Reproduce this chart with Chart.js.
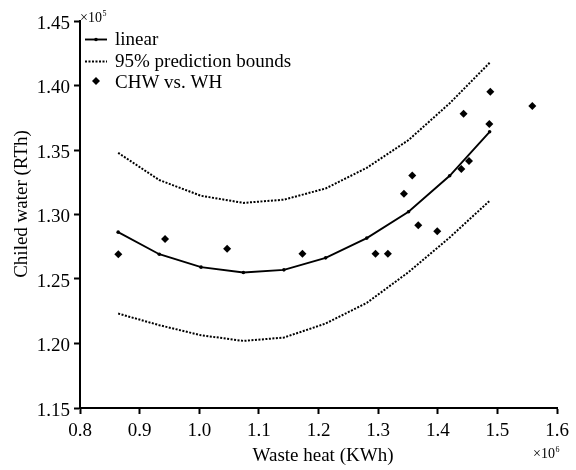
<!DOCTYPE html>
<html>
<head>
<meta charset="utf-8">
<script src="https://cdn.jsdelivr.net/npm/chart.js@4/dist/chart.umd.min.js"></script>
<style>
html,body{margin:0;padding:0;background:#fff;}
#wrap{width:576px;height:470px;position:relative;}
</style>
</head>
<body>
<div id="wrap"><canvas id="c" width="576" height="470"></canvas></div>
<script>
// Fitted curve (linear model) — x in 10^6 KWh, y in 10^5 RTh
const fitX = [0.864, 0.933, 1.003, 1.074, 1.142, 1.212, 1.281, 1.351, 1.420, 1.487];
const fitY = [1.2863, 1.2692, 1.2592, 1.2550, 1.2571, 1.2664, 1.2817, 1.3021, 1.3300, 1.3641];
// 95% prediction bounds
const upperY = [1.3478, 1.3267, 1.3145, 1.3090, 1.3115, 1.3202, 1.3362, 1.3577, 1.3862, 1.4176];
const lowerY = [1.2232, 1.2142, 1.2064, 1.2020, 1.2046, 1.2155, 1.2315, 1.2553, 1.2822, 1.3106];
// Observations CHW vs. WH
const obsX = [0.8643, 0.9427, 1.0467, 1.1731, 1.2956, 1.3164, 1.3433, 1.3572, 1.3673, 1.3992, 1.4395, 1.4524, 1.4433, 1.4865, 1.4882, 1.5586];
const obsY = [1.2692, 1.2811, 1.2734, 1.2695, 1.2695, 1.2695, 1.3160, 1.3303, 1.2917, 1.2871, 1.3352, 1.3414, 1.3781, 1.3701, 1.3952, 1.3841];
// Axes
const xMin = 0.8, xMax = 1.6, xStep = 0.1;
const yMin = 1.15, yMax = 1.45, yStep = 0.05;
const xTitle = "Waste heat (KWh)";
const yTitle = "Chiled water (RTh)";
const legendLabels = ["linear", "95% prediction bounds", "CHW vs. WH"];

const FONT = "'Liberation Serif', 'Times New Roman', serif";
const pts = (xs, ys) => xs.map((x, i) => ({x: x, y: ys[i]}));

const decor = {
  id: 'decor',
  afterDraw(chart) {
    const ctx = chart.ctx;
    ctx.save();
    ctx.fillStyle = '#000';
    ctx.strokeStyle = '#000';
    // axis titles
    ctx.font = '19px ' + FONT;
    ctx.textAlign = 'center';
    ctx.textBaseline = 'middle';
    ctx.fillText(xTitle, 323, 456);
    ctx.save();
    ctx.translate(22, 204);
    ctx.rotate(-Math.PI / 2);
    ctx.fillText(yTitle, 0, 0);
    ctx.restore();
    // exponent labels
    ctx.textAlign = 'left';
    ctx.textBaseline = 'alphabetic';
    ctx.font = '14px ' + FONT;
    ctx.fillText('\u00d710', 80, 22);
    let w = ctx.measureText('\u00d710').width;
    ctx.font = '8px ' + FONT;
    ctx.fillText('5', 80 + w + 0.5, 16);
    ctx.font = '14px ' + FONT;
    ctx.fillText('\u00d710', 533, 458);
    w = ctx.measureText('\u00d710').width;
    ctx.font = '8px ' + FONT;
    ctx.fillText('6', 533 + w + 0.5, 452);
    // legend
    const ds = chart.data.datasets;
    ctx.font = '19px ' + FONT;
    // linear
    ctx.lineWidth = ds[0].borderWidth;
    ctx.setLineDash([]);
    ctx.beginPath(); ctx.moveTo(85, 39.5); ctx.lineTo(107, 39.5); ctx.stroke();
    ctx.beginPath(); ctx.arc(96, 39.5, 1.8, 0, Math.PI * 2); ctx.fill();
    ctx.fillText(legendLabels[0], 115, 45);
    // bounds
    ctx.lineWidth = ds[1].borderWidth;
    ctx.setLineDash(ds[1].borderDash);
    ctx.beginPath(); ctx.moveTo(85, 61.5); ctx.lineTo(107, 61.5); ctx.stroke();
    ctx.setLineDash([]);
    ctx.fillText(legendLabels[1], 115, 66.5);
    // scatter
    const r = ds[3].pointRadius;
    ctx.beginPath();
    ctx.moveTo(96, 81 - r); ctx.lineTo(96 + r, 81); ctx.lineTo(96, 81 + r); ctx.lineTo(96 - r, 81); ctx.closePath();
    ctx.fill();
    ctx.fillText(legendLabels[2], 115, 88);
    ctx.restore();
  }
};

const axisCommon = {
  border: {display: true, color: '#000', width: 2},
  grid: {display: true, drawOnChartArea: false, drawTicks: true, tickLength: 6, tickColor: '#000', tickWidth: 2},
};

new Chart(document.getElementById('c'), {
  type: 'line',
  data: {
    datasets: [
      {label: legendLabels[0], data: pts(fitX, fitY), borderColor: '#000', backgroundColor: '#000', borderWidth: 1.9,
       pointRadius: 1.8, pointBorderWidth: 0, pointBackgroundColor: '#000', tension: 0, fill: false},
      {label: legendLabels[1], data: pts(fitX, upperY), borderColor: '#000', borderWidth: 2, borderDash: [2, 1.5],
       pointRadius: 0, tension: 0, fill: false},
      {label: legendLabels[1] + ' (lower)', data: pts(fitX, lowerY), borderColor: '#000', borderWidth: 2, borderDash: [2, 1.5],
       pointRadius: 0, tension: 0, fill: false},
      {label: legendLabels[2], data: pts(obsX, obsY), showLine: false, pointStyle: 'rectRot', pointRadius: 4,
       pointBorderWidth: 0, pointBackgroundColor: '#000', borderColor: '#000'}
    ]
  },
  options: {
    responsive: false,
    animation: false,
    layout: {padding: {top: 21, right: 19, left: 0, bottom: 0}},
    plugins: {legend: {display: false}, tooltip: {enabled: false}},
    scales: {
      x: Object.assign({}, axisCommon, {
        type: 'linear', min: xMin, max: xMax,
        afterFit: s => { s.height = 62; },
        ticks: {stepSize: xStep, color: '#000', padding: 6, font: {family: FONT, size: 19},
                maxRotation: 0, callback: v => v.toFixed(1)}
      }),
      y: Object.assign({}, axisCommon, {
        type: 'linear', min: yMin, max: yMax,
        afterFit: s => { s.width = 80; },
        ticks: {stepSize: yStep, color: '#000', padding: 4, font: {family: FONT, size: 19},
                labelOffset: 3, callback: v => v.toFixed(2)}
      })
    }
  },
  plugins: [decor]
});
</script>
</body>
</html>
